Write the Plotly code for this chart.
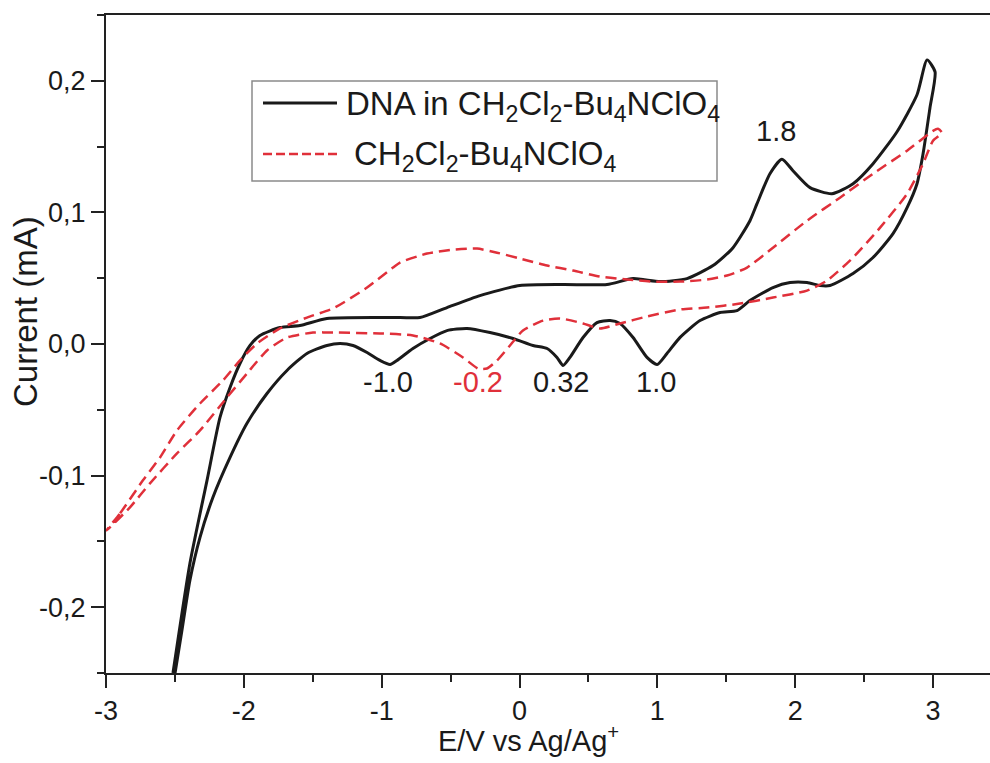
import plotly.graph_objects as go

# Cyclic voltammogram of DNA in CH2Cl2-Bu4NClO4 and the bare electrolyte.
# Potential E (V vs Ag/Ag+) and current I (mA); each loop is the forward sweep
# followed by the reverse sweep.

dna_fwd_E = [-2.514, -2.391, -2.267, -2.173, -2.100, -2.028, -1.955, -1.883, -1.738,
             -1.593, -1.397, -0.867, -0.722, -0.526, -0.287, 0.003, 0.316, 0.635,
             0.824, 1.020, 1.215, 1.404, 1.549, 1.672, 1.723, 1.817, 1.904, 1.984,
             2.108, 2.267, 2.420, 2.565, 2.739, 2.884, 2.957, 3.015]
dna_fwd_I = [-0.250, -0.1666, -0.1036, -0.0558, -0.0330, -0.0148, -0.0011, 0.0065, 0.0125,
             0.0140, 0.0194, 0.0201, 0.0201, 0.0277, 0.0368, 0.0444, 0.0452, 0.0452,
             0.0497, 0.0474, 0.0497, 0.0596, 0.0732, 0.0937, 0.1066, 0.1294, 0.1404, 0.1317,
             0.1188, 0.1142, 0.1218, 0.1370, 0.1613, 0.1894, 0.2159, 0.2068]

dna_rev_E = [2.978, 2.928, 2.884, 2.812, 2.710, 2.565, 2.420, 2.253, 2.180, 2.086,
             1.963, 1.839, 1.672, 1.578, 1.455, 1.310, 1.165, 1.070, 0.998, 0.925,
             0.824, 0.729, 0.657, 0.562, 0.461, 0.366, 0.316, 0.272, 0.200, 0.098,
             -0.047, -0.214, -0.381, -0.526, -0.649, -0.773, -0.889, -0.939, -1.012,
             -1.106, -1.208, -1.302, -1.397, -1.542, -1.687, -1.832, -1.977, -2.100,
             -2.224, -2.318, -2.391, -2.449, -2.499]
dna_rev_I = [0.1795, 0.1446, 0.1218, 0.1036, 0.0839, 0.0657, 0.0535, 0.0444, 0.0444, 0.0467,
             0.0467, 0.0429, 0.0330, 0.0254, 0.0239, 0.0178, 0.0050, -0.0072, -0.0156, -0.0102,
             0.0049, 0.0156, 0.0178, 0.0163, 0.0049, -0.0102, -0.0163, -0.0102, -0.0034, -0.0011,
             0.0042, 0.0087, 0.0118, 0.0102, 0.0042, -0.0034, -0.0125, -0.0156, -0.0125,
             -0.0065, -0.0011, 0.0004, -0.0011, -0.0072, -0.0201, -0.0376, -0.0603, -0.0862,
             -0.1165, -0.1469, -0.1795, -0.2175, -0.2501]

blank_fwd_E = [-3.000, -2.898, -2.732, -2.608, -2.485, -2.318, -2.151, -2.028, -1.904,
               -1.738, -1.542, -1.353, -1.106, -0.918, -0.867, -0.671, -0.482, -0.308,
               -0.163, 0.004, 0.200, 0.388, 0.584, 0.780, 0.969, 1.165, 1.360, 1.506,
               1.651, 1.839, 2.086, 2.325, 2.565, 2.812, 3.000, 3.036]
blank_fwd_I = [-0.1420, -0.1287, -0.1036, -0.0862, -0.0657, -0.0452, -0.0277, -0.0125, 0.0004,
               0.0118, 0.0201, 0.0270, 0.0429, 0.0581, 0.0619, 0.0687, 0.0717, 0.0725,
               0.0694, 0.0649, 0.0596, 0.0558, 0.0512, 0.0490, 0.0474, 0.0474, 0.0490, 0.0520,
               0.0581, 0.0732, 0.0937, 0.1112, 0.1294, 0.1469, 0.1620, 0.1636]

blank_rev_E = [3.065, 3.000, 2.928, 2.812, 2.616, 2.420, 2.231, 2.086, 1.839, 1.600,
               1.360, 1.165, 0.925, 0.729, 0.584, 0.461, 0.294, 0.171, 0.025, -0.069,
               -0.163, -0.236, -0.301, -0.410, -0.577, -0.773, -1.012, -1.353, -1.498,
               -1.687, -1.832, -1.977, -2.122, -2.318, -2.485, -2.681, -2.826, -3.000]
blank_rev_I = [0.1605, 0.1545, 0.1370, 0.1142, 0.0884, 0.0657, 0.0482, 0.0406, 0.0353, 0.0307,
               0.0277, 0.0262, 0.0209, 0.0156, 0.0118, 0.0156, 0.0194, 0.0178, 0.0102, -0.0011,
               -0.0125, -0.0186, -0.0186, -0.0102, 0.0004, 0.0065, 0.0080, 0.0087, 0.0087,
               0.0049, -0.0049, -0.0224, -0.0406, -0.0657, -0.0831, -0.1059, -0.1241, -0.1420]

# Peak labels: (text, E, I, colour)
peak_text = ["1.8", "-1.0", "-0.2", "0.32", "1.0"]
peak_E = [1.861, -0.954, -0.299, 0.301, 0.990]
peak_I = [0.162, -0.029, -0.029, -0.029, -0.029]
peak_color = ["#1a1a1a", "#1a1a1a", "#e0303a", "#1a1a1a", "#1a1a1a"]

x_ticks = [-3, -2, -1, 0, 1, 2, 3]
x_ticktext = ["-3", "-2", "-1", "0", "1", "2", "3"]
y_ticks = [-0.2, -0.1, 0.0, 0.1, 0.2]
y_ticktext = ["-0,2", "-0,1", "0,0", "0,1", "0,2"]

legend_labels = ["DNA in CH<sub>2</sub>Cl<sub>2</sub>-Bu<sub>4</sub>NClO<sub>4</sub>",
                 "CH<sub>2</sub>Cl<sub>2</sub>-Bu<sub>4</sub>NClO<sub>4</sub>"]

FONT = "Liberation Sans, Arial, sans-serif"
INK = "#1a1a1a"
RED = "#e0303a"
TICK_SIZE = 27

fig = go.Figure()
fig.add_trace(go.Scatter(
    x=dna_fwd_E + dna_rev_E, y=dna_fwd_I + dna_rev_I, mode="lines",
    line=dict(color=INK, width=3, shape="spline", smoothing=0.6),
    name=legend_labels[0], showlegend=False))
fig.add_trace(go.Scatter(
    x=blank_fwd_E + blank_rev_E, y=blank_fwd_I + blank_rev_I, mode="lines",
    line=dict(color=RED, width=2.5, dash="11px,6px", shape="spline", smoothing=0.6),
    name=legend_labels[1], showlegend=False))

for t, e, i, c in zip(peak_text, peak_E, peak_I, peak_color):
    fig.add_annotation(x=e, y=i, text=t, showarrow=False, xanchor="center",
                       yanchor="middle", font=dict(family=FONT, size=29, color=c))

# Legend box drawn in paper coordinates
W, H = 990, 763
ML, MR, MT, MB = 106, 0, 15, 90
pw, ph = W - ML - MR, H - MT - MB


def px(xp):
    return (xp - ML) / pw


def py(yp):
    return 1 - (yp - MT) / ph


fig.add_shape(type="rect", xref="paper", yref="paper",
              x0=px(252), x1=px(717), y0=py(181), y1=py(81),
              line=dict(color="#8a8a8a", width=1.5), fillcolor="white", layer="below")
fig.add_shape(type="line", xref="paper", yref="paper",
              x0=px(263), x1=px(337), y0=py(103), y1=py(103),
              line=dict(color=INK, width=3))
fig.add_shape(type="line", xref="paper", yref="paper",
              x0=px(263), x1=px(337), y0=py(154), y1=py(154),
              line=dict(color=RED, width=2.5, dash="9px,4px"))
fig.add_annotation(xref="paper", yref="paper", x=px(344), y=py(106), xanchor="left",
                   yanchor="middle", text=legend_labels[0], showarrow=False,
                   font=dict(family=FONT, size=33, color=INK))
fig.add_annotation(xref="paper", yref="paper", x=px(352), y=py(156), xanchor="left",
                   yanchor="middle", text=legend_labels[1], showarrow=False,
                   font=dict(family=FONT, size=33, color=INK))

# Axis titles
fig.add_annotation(xref="paper", yref="paper", x=px(528), y=py(739),
                   xanchor="center", yanchor="middle",
                   text="E/V vs Ag/Ag<sup>+</sup>", showarrow=False,
                   font=dict(family=FONT, size=29, color=INK))
fig.add_annotation(xref="paper", yref="paper", x=px(25), y=py(312),
                   xanchor="center", yanchor="middle",
                   text="Current (mA)", textangle=-90, showarrow=False,
                   font=dict(family=FONT, size=33, color=INK))

fig.update_layout(
    width=W, height=H,
    margin=dict(l=ML, r=MR, t=MT, b=MB, pad=0),
    plot_bgcolor="white", paper_bgcolor="white",
    font=dict(family=FONT, size=TICK_SIZE, color=INK),
    showlegend=False,
)
fig.update_xaxes(
    range=[-3, 3 + (W - 933) / 137.83], tickmode="array", tickvals=x_ticks,
    ticktext=x_ticktext, ticks="outside", ticklen=13, tickwidth=2, tickcolor="#222",
    showline=True, linewidth=2, linecolor="#222", mirror=True, showgrid=False,
    zeroline=False, tickfont=dict(family=FONT, size=TICK_SIZE, color=INK),
    minor=dict(ticks="outside", ticklen=7, tickwidth=2, tickcolor="#222",
               tickmode="linear", tick0=-2.5, dtick=1, showgrid=False),
)
fig.update_yaxes(
    range=[-0.25, 0.25], tickmode="array", tickvals=y_ticks, ticktext=y_ticktext,
    ticks="outside", ticklen=13, tickwidth=2, tickcolor="#222",
    showline=True, linewidth=2, linecolor="#222", mirror=False, showgrid=False,
    zeroline=False, tickfont=dict(family=FONT, size=TICK_SIZE, color=INK),
    minor=dict(ticks="outside", ticklen=7, tickwidth=2, tickcolor="#222",
               tickmode="linear", tick0=-0.25, dtick=0.1, showgrid=False),
)

fig.write_html("out.html")
